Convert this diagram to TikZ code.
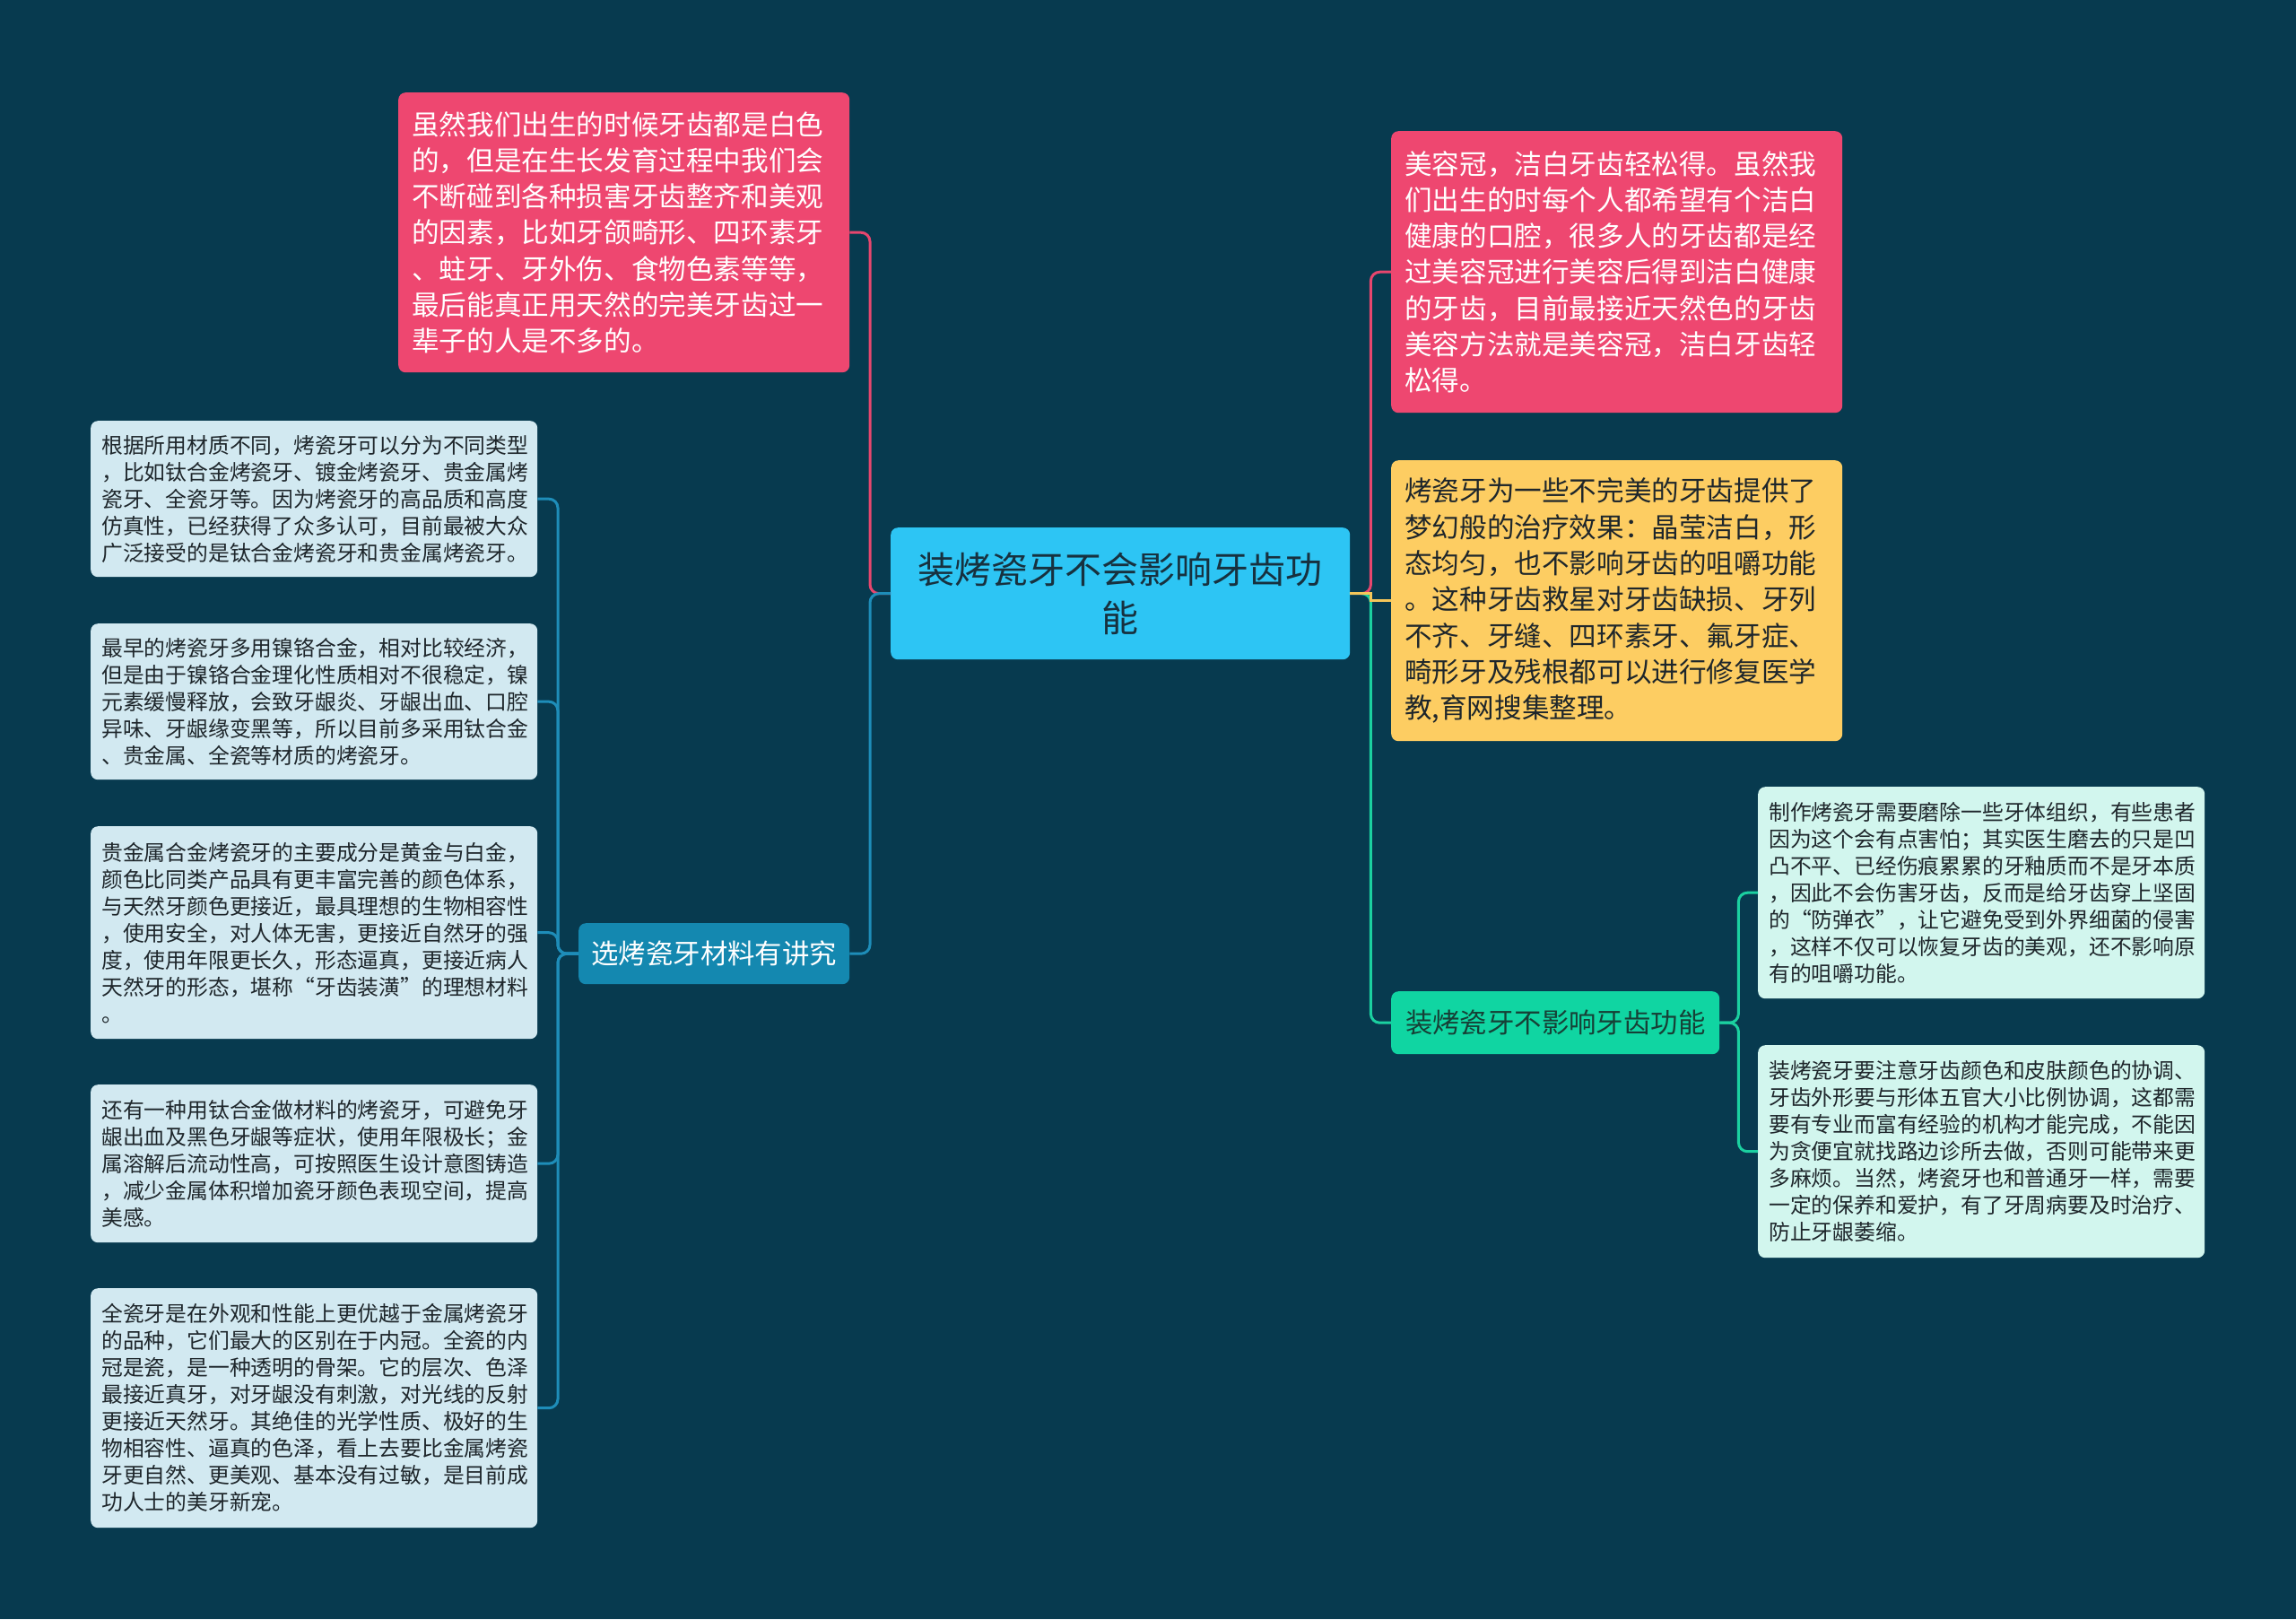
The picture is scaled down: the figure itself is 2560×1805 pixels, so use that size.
\documentclass[tikz,border=0pt]{standalone}
\usepackage{fontspec}
\setmainfont{Noto Sans CJK SC}
\definecolor{bg}{HTML}{073A4F}
\definecolor{pinkc}{HTML}{EE4770}
\definecolor{yellowc}{HTML}{FDCD62}
\definecolor{rootc}{HTML}{2DC5F4}
\definecolor{bluec}{HTML}{1488B0}
\definecolor{greenc}{HTML}{10D5A2}
\definecolor{leafl}{HTML}{D2E9F1}
\definecolor{leafr}{HTML}{D2F6EE}
\definecolor{lnblue}{HTML}{1E8DB9}
\definecolor{lngreen}{HTML}{1BD0A0}
\definecolor{lnpink}{HTML}{E8466E}
\definecolor{lnyellow}{HTML}{F5C65A}
\definecolor{txtdark}{HTML}{1E262B}
\definecolor{roottxt}{HTML}{17313F}
\definecolor{greentxt}{HTML}{164036}
\newcommand{\oq}{\makebox[1em][r]{“}}
\newcommand{\cq}{\makebox[1em][l]{”}}
\tikzset{
  box/.style={rounded corners=8pt, anchor=north west, inner ysep=0pt},
  bigtext/.style={box, align=left, inner xsep=15pt, text width=473pt,
     font=\fontsize{30.6}{40.3}\selectfont},
  leaftext/.style={box, align=left, inner xsep=12pt, text width=474pt,
     font=\fontsize{23.8}{30}\selectfont, text=txtdark},
  conn/.style={line width=3pt, rounded corners=10pt},
}
\begin{document}
\begin{tikzpicture}[x=1pt,y=-1pt]
\fill[bg] (0,0) rectangle (2560,1805);
\useasboundingbox (0,0) rectangle (2560,1805);

% root
\node[box, fill=rootc, minimum width=512pt, minimum height=147pt, inner xsep=10pt,
  text width=492pt, align=center, text=roottxt, font=\fontsize{41}{54}\selectfont]
  (root) at (993,588) {装烤瓷牙不会影响牙齿功\\能};

% left top pink
\node[bigtext, fill=pinkc, text=white, minimum height=312pt] (pl) at (444,103)
{虽然我们出生的时候牙齿都是白色\\的，但是在生长发育过程中我们会\\不断碰到各种损害牙齿整齐和美观\\的因素，比如牙颌畸形、四环素牙\\、蛀牙、牙外伤、食物色素等等，\\最后能真正用天然的完美牙齿过一\\辈子的人是不多的。};

% left blue sub
\node[box, fill=bluec, minimum width=302pt, minimum height=68pt, inner xsep=10pt,
  text width=282pt, align=center, text=white, font=\fontsize{30.4}{36}\selectfont]
  (sub) at (645,1029) {选烤瓷牙材料有讲究};

% left leaves
\node[leaftext, fill=leafl, minimum height=174pt] (l1) at (101,469)
{根据所用材质不同，烤瓷牙可以分为不同类型\\，比如钛合金烤瓷牙、镀金烤瓷牙、贵金属烤\\瓷牙、全瓷牙等。因为烤瓷牙的高品质和高度\\仿真性，已经获得了众多认可，目前最被大众\\广泛接受的是钛合金烤瓷牙和贵金属烤瓷牙。};

\node[leaftext, fill=leafl, minimum height=174pt] (l2) at (101,695)
{最早的烤瓷牙多用镍铬合金，相对比较经济，\\但是由于镍铬合金理化性质相对不很稳定，镍\\元素缓慢释放，会致牙龈炎、牙龈出血、口腔\\异味、牙龈缘变黑等，所以目前多采用钛合金\\、贵金属、全瓷等材质的烤瓷牙。};

\node[leaftext, fill=leafl, minimum height=237pt] (l3) at (101,921)
{贵金属合金烤瓷牙的主要成分是黄金与白金，\\颜色比同类产品具有更丰富完善的颜色体系，\\与天然牙颜色更接近，最具理想的生物相容性\\，使用安全，对人体无害，更接近自然牙的强\\度，使用年限更长久，形态逼真，更接近病人\\天然牙的形态，堪称\oq 牙齿装潢\cq 的理想材料\\。};

\node[leaftext, fill=leafl, minimum height=176pt] (l4) at (101,1209)
{还有一种用钛合金做材料的烤瓷牙，可避免牙\\龈出血及黑色牙龈等症状，使用年限极长；金\\属溶解后流动性高，可按照医生设计意图铸造\\，减少金属体积增加瓷牙颜色表现空间，提高\\美感。};

\node[leaftext, fill=leafl, minimum height=267pt] (l5) at (101,1436)
{全瓷牙是在外观和性能上更优越于金属烤瓷牙\\的品种，它们最大的区别在于内冠。全瓷的内\\冠是瓷，是一种透明的骨架。它的层次、色泽\\最接近真牙，对牙龈没有刺激，对光线的反射\\更接近天然牙。其绝佳的光学性质、极好的生\\物相容性、逼真的色泽，看上去要比金属烤瓷\\牙更自然、更美观、基本没有过敏，是目前成\\功人士的美牙新宠。};

% right pink
\node[bigtext, fill=pinkc, text=white, minimum height=314pt] (pr) at (1551,146)
{美容冠，洁白牙齿轻松得。虽然我\\们出生的时每个人都希望有个洁白\\健康的口腔，很多人的牙齿都是经\\过美容冠进行美容后得到洁白健康\\的牙齿，目前最接近天然色的牙齿\\美容方法就是美容冠，洁白牙齿轻\\松得。};

% right yellow
\node[bigtext, fill=yellowc, text=txtdark, minimum height=313pt] (yl) at (1551,513)
{烤瓷牙为一些不完美的牙齿提供了\\梦幻般的治疗效果：晶莹洁白，形\\态均匀，也不影响牙齿的咀嚼功能\\。这种牙齿救星对牙齿缺损、牙列\\不齐、牙缝、四环素牙、氟牙症、\\畸形牙及残根都可以进行修复医学\\教,育网搜集整理。};

% right green
\node[box, fill=greenc, minimum width=366pt, minimum height=70pt, inner xsep=10pt,
  text width=346pt, align=center, text=greentxt, font=\fontsize{30.4}{36}\selectfont]
  (gr) at (1551,1105) {装烤瓷牙不影响牙齿功能};

% right leaves
\node[leaftext, fill=leafr, minimum height=236pt] (r1) at (1960,877)
{制作烤瓷牙需要磨除一些牙体组织，有些患者\\因为这个会有点害怕；其实医生磨去的只是凹\\凸不平、已经伤痕累累的牙釉质而不是牙本质\\，因此不会伤害牙齿，反而是给牙齿穿上坚固\\的\oq 防弹衣\cq ，让它避免受到外界细菌的侵害\\，这样不仅可以恢复牙齿的美观，还不影响原\\有的咀嚼功能。};

\node[leaftext, fill=leafr, minimum height=237pt] (r2) at (1960,1165)
{装烤瓷牙要注意牙齿颜色和皮肤颜色的协调、\\牙齿外形要与形体五官大小比例协调，这都需\\要有专业而富有经验的机构才能完成，不能因\\为贪便宜就找路边诊所去做，否则可能带来更\\多麻烦。当然，烤瓷牙也和普通牙一样，需要\\一定的保养和爱护，有了牙周病要及时治疗、\\防止牙龈萎缩。};

% connectors left
\draw[conn, lnpink] (root.west) -- ++(-23,0) |- (pl.east);
\draw[conn, lnblue] (root.west) -- ++(-23,0) |- (sub.east);
\foreach \n in {l1,l2,l3,l4,l5}
  \draw[conn, lnblue] (sub.west) -- ++(-23,0) |- (\n.east);

% connectors right
\draw[conn, lnpink] (root.east) -- ++(23,0) |- (pr.west);
\draw[conn, lngreen] (root.east) -- ++(23,0) |- (gr.west);
\draw[line width=3pt, lnyellow] (root.east) -- ++(23,0) |- (yl.west);
\foreach \n in {r1,r2}
  \draw[conn, lngreen] (gr.east) -- ++(21,0) |- (\n.west);
\end{tikzpicture}
\end{document}
